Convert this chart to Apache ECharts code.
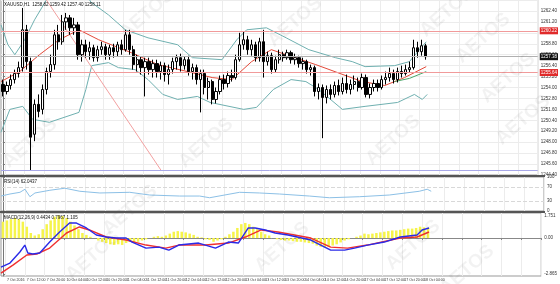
<!DOCTYPE html>
<html><head><meta charset="utf-8">
<script src="https://cdn.jsdelivr.net/npm/echarts@6/dist/echarts.min.js"></script>
<style>html,body{margin:0;padding:0;background:#fff}#c{width:560px;height:284px}</style>
</head><body><div id="c"></div>
<script>
// ---- data ----
const slotCount = 136;
const tickLabels = ["7 Oct 2016","7 Oct 12:00","7 Oct 20:00","10 Oct 04:00","10 Oct 12:00","10 Oct 20:00","11 Oct 04:00","11 Oct 12:00","11 Oct 20:00","12 Oct 04:00","12 Oct 12:00","12 Oct 20:00","13 Oct 04:00","13 Oct 12:00","13 Oct 20:00","14 Oct 04:00","14 Oct 12:00","14 Oct 20:00","17 Oct 04:00","17 Oct 12:00","17 Oct 20:00","18 Oct 04:00"];
const opens = [1254.33,1253.56,1254.22,1254.87,1255.53,1256.18,1260.33,1256.84,1248.87,1252.15,1251.60,1253.78,1255.75,1256.51,1259.78,1259.02,1261.20,1261.64,1260.55,1260.87,1257.60,1258.69,1257.93,1258.36,1257.27,1258.15,1258.47,1257.60,1258.36,1257.93,1258.69,1258.15,1259.78,1258.15,1256.51,1257.05,1256.18,1256.84,1255.96,1256.62,1255.75,1256.40,1255.42,1255.96,1256.84,1257.27,1256.40,1257.05,1255.75,1256.18,1254.87,1255.53,1254.00,1254.65,1252.69,1253.56,1254.87,1254.44,1255.31,1255.09,1257.05,1258.69,1259.24,1258.15,1258.69,1257.27,1259.02,1256.84,1257.49,1255.96,1257.05,1257.60,1257.27,1257.82,1257.05,1257.27,1256.62,1256.84,1255.96,1256.18,1253.56,1254.00,1252.91,1253.78,1253.24,1254.22,1253.56,1254.44,1253.78,1254.33,1254.65,1254.00,1255.09,1253.24,1254.00,1254.44,1254.00,1254.87,1255.09,1255.53,1254.87,1255.75,1255.53,1255.96,1256.18,1258.36,1257.93,1258.58];
const closes = [1253.56,1254.22,1254.87,1255.53,1256.18,1260.33,1256.84,1248.55,1252.15,1251.38,1253.78,1255.75,1256.51,1259.78,1259.02,1261.20,1261.64,1260.55,1260.87,1257.60,1258.69,1257.93,1258.36,1257.27,1258.15,1258.47,1257.60,1258.36,1257.93,1258.69,1258.15,1259.78,1258.15,1256.51,1257.05,1256.18,1256.84,1255.96,1256.62,1255.75,1256.40,1255.42,1255.96,1256.84,1257.27,1256.40,1257.05,1255.75,1256.18,1254.87,1255.53,1254.00,1254.65,1252.69,1253.56,1254.87,1254.44,1255.31,1255.09,1257.05,1258.69,1259.24,1258.15,1258.69,1257.27,1259.02,1256.84,1257.49,1255.96,1257.05,1257.60,1257.27,1257.82,1257.05,1257.27,1256.62,1256.84,1255.96,1256.18,1253.56,1254.00,1252.91,1253.78,1253.24,1254.22,1253.56,1254.44,1253.78,1254.33,1254.65,1254.00,1255.09,1253.24,1254.00,1254.44,1254.00,1254.87,1255.09,1255.53,1254.87,1255.75,1255.53,1255.96,1256.18,1258.36,1257.93,1258.58,1257.38];
const highs = [1254.87,1254.65,1255.42,1255.96,1256.84,1262.73,1260.87,1257.27,1252.69,1253.24,1254.33,1256.18,1257.60,1260.33,1260.87,1261.96,1262.18,1261.96,1261.64,1261.20,1259.24,1259.24,1259.02,1258.69,1258.58,1259.02,1258.80,1258.69,1258.80,1259.02,1259.24,1260.33,1260.33,1258.58,1257.60,1257.38,1257.27,1257.27,1257.05,1257.05,1256.84,1256.73,1256.51,1257.27,1257.60,1257.71,1257.38,1257.49,1256.62,1256.51,1255.96,1255.96,1255.09,1254.87,1254.00,1255.31,1255.42,1255.75,1255.96,1257.60,1260.00,1260.11,1259.67,1259.24,1259.02,1259.45,1260.33,1257.93,1257.82,1257.49,1258.15,1257.93,1258.15,1258.04,1257.71,1257.49,1257.27,1257.05,1256.51,1256.40,1254.44,1254.33,1254.22,1254.33,1254.65,1254.87,1255.09,1255.42,1254.87,1255.31,1255.09,1255.53,1255.42,1254.44,1254.87,1254.87,1255.31,1255.75,1256.18,1255.96,1256.18,1256.40,1256.51,1256.84,1259.24,1259.02,1259.24,1258.80];
const lows = [1253.02,1253.24,1253.78,1254.44,1255.09,1255.75,1255.96,1244.95,1248.11,1250.73,1251.05,1253.24,1255.09,1255.96,1258.15,1258.69,1260.33,1259.78,1259.78,1257.05,1256.84,1257.27,1257.05,1256.84,1256.84,1257.60,1257.05,1257.05,1257.27,1257.38,1257.60,1257.93,1257.60,1255.96,1255.75,1255.42,1253.02,1255.42,1255.09,1255.09,1254.87,1254.65,1254.33,1255.53,1255.96,1255.75,1255.96,1255.31,1254.87,1254.33,1251.27,1253.24,1252.69,1252.15,1252.25,1253.24,1253.78,1254.00,1254.65,1254.87,1256.84,1258.15,1257.60,1257.49,1256.84,1256.84,1255.09,1256.40,1255.53,1255.64,1256.62,1256.84,1257.05,1256.62,1256.51,1256.18,1255.96,1255.53,1255.31,1253.02,1252.69,1248.44,1252.25,1252.69,1252.91,1253.13,1253.24,1253.35,1253.24,1253.78,1253.56,1253.78,1252.91,1252.80,1253.56,1253.56,1253.78,1254.33,1254.65,1254.44,1254.55,1255.09,1255.31,1255.64,1255.96,1257.27,1257.49,1257.05];
const upperBand = [[-0.5,1260.87],[1.25,1258.69],[3,1257.6],[5.5,1259.24],[8,1261.42],[11.75,1264.15],[15.5,1266.3],[19.25,1265.8],[22.25,1263.38],[26.75,1261.96],[31,1260.33],[36.75,1259.45],[44.25,1258.69],[48,1257.27],[55.5,1257.05],[59.25,1259.24],[61.75,1260.33],[66.75,1260.55],[71.75,1259.45],[77.5,1258.15],[84.25,1257.27],[88.5,1256.84],[91.75,1256.29],[99.25,1256.4],[103,1256.84],[105.5,1258.15],[107.25,1259.02]];
const lowerBand = [[-0.5,1249.09],[1.75,1251.6],[5,1251.93],[7.5,1250.51],[11.75,1250.18],[19.25,1251.27],[21,1253.78],[22.5,1256.4],[26.75,1256.73],[29.25,1256.18],[33.5,1255.96],[36.75,1254.87],[40.5,1253.24],[44.25,1252.69],[49.25,1253.02],[52.5,1252.36],[61,1251.6],[64.25,1251.82],[68.5,1253.78],[73,1254.87],[76.75,1254.65],[80,1253.78],[86,1251.6],[91.75,1251.93],[100,1252.36],[104.25,1253.24],[106.25,1252.69],[107.5,1253.24]];
const maRed = [[-0.5,1254.65],[4.25,1255.75],[9.25,1257.6],[14.25,1259.24],[19.25,1260.33],[24.25,1259.24],[32.5,1257.82],[39.25,1256.51],[46.75,1255.75],[53,1255.09],[58,1254.87],[63,1256.84],[68,1258.15],[79.25,1256.51],[91,1254.65],[96.75,1254.22],[101.75,1255.09],[107.25,1256.29]];
const maGreen = [[99.25,1254.65],[103,1255.0],[107.25,1255.75]];
const trendLine = [[11,1263.6],[40,1244.95]];
const levelRedHigh = 1260.22, levelRedLow = 1255.64, bidPrice = 1257.38, purpleLevel = 1244.95;
const rsi = [[-0.5,44],[1.75,50],[4.25,55],[5.5,64],[6.75,42],[8,53],[11.75,61],[15.5,67],[19.25,58],[24.25,53],[31.75,55],[36.75,47],[44.25,44],[49.25,44],[51.75,39],[59.25,55],[64.25,53],[69.25,50],[76.75,44],[81.75,39],[89.25,42],[96.75,47],[104.25,58],[106.25,64],[107.25,58]];
const macdHist = [1.3,1.4,1.5,1.6,1.5,1.3,0.9,0.4,0.2,0.3,0.7,1.1,1.4,1.7,1.8,1.75,1.6,1.3,1.0,0.7,0.4,0.25,0.1,0.0,-0.2,-0.3,-0.4,-0.5,-0.55,-0.5,-0.55,-0.4,-0.3,-0.4,-0.3,-0.2,-0.1,0.0,0.1,0.15,0.1,0.2,0.35,0.5,0.55,0.5,0.45,0.35,0.25,0.1,0.05,-0.1,-0.15,-0.3,-0.2,-0.1,0.1,0.3,0.5,0.8,1.1,1.2,1.1,0.9,0.7,0.5,0.3,0.2,0.0,-0.1,-0.15,-0.2,-0.2,-0.25,-0.3,-0.3,-0.35,-0.4,-0.45,-0.6,-0.7,-0.75,-0.7,-0.6,-0.5,-0.35,-0.2,-0.1,0.0,0.1,0.2,0.35,0.3,0.35,0.4,0.45,0.5,0.55,0.6,0.6,0.65,0.7,0.75,0.75,0.8,0.9,0.85,0.8];
const macdBlue = [[-0.5,-2.31],[1.75,-1.99],[4.25,-1.11],[5.5,-0.56],[6.25,-1.19],[7.5,-1.27],[9.25,-1.19],[11.75,-0.32],[14.25,0.48],[16.75,1.19],[18.5,1.19],[21,0.8],[23.5,0.24],[26,0.08],[28.5,0],[31,0],[32.5,-0.32],[36,-0.8],[39.25,-0.72],[41.75,-0.96],[44.25,-0.56],[49.25,-0.4],[53.5,-0.8],[56.75,-0.32],[59.25,-0.4],[61.75,0.8],[63.5,0.8],[66,0.64],[68.5,0.4],[71.75,0.24],[77.5,-0.16],[80,-0.56],[82.5,-0.96],[86,-0.96],[88.5,-0.8],[91.75,-0.56],[96,-0.32],[100,0.08],[104.25,0.24],[105.5,0.64],[107.25,0.8]];
const macdRed = [[-0.5,-2.79],[2.5,-2.15],[6,-1.35],[8.5,-1.27],[11.75,-0.8],[16,0.4],[19.25,0.88],[21.75,0.64],[26,0.08],[31,-0.16],[36,-0.56],[41,-0.8],[44.25,-0.56],[51,-0.56],[56.75,-0.4],[61,0.08],[65,0.64],[69.25,0.48],[77.5,0],[82.5,-0.72],[86.75,-0.8],[91.75,-0.56],[100,0],[104.25,0.08],[107.25,0.48]];
const mainTitle = "XAUUSD,H1  1258.82 1259.42 1257.40 1258.11";
const rsiTitle = "RSI(14) 62.0437";
const macdTitle = "MACD(12,26,9) 0.4434 0.7967 1.105";
const rsiLabels = [100, 70, 30, 0];
const macdLabels = [1.751, 0, -2.865];

// ---- build ----
const categories = [];
for (let i = 0; i < slotCount; i++) {
  const k = (i - 1) / 5;
  categories.push((i % 5 === 1 && k < tickLabels.length) ? tickLabels[k] : '');
}
const candles = opens.map((o, i) => [o, closes[i], lows[i], highs[i]]);
const FONT = 'Liberation Sans';
const GRID_C = '#ececec';
const splitInt = (idx) => idx % 5 === 1;

function catAxis(gi, showLabel) {
  return {type: 'category', gridIndex: gi, data: categories, boundaryGap: true,
    axisLine: {show: showLabel, lineStyle: {color: '#888'}},
    axisTick: {show: showLabel, interval: splitInt, length: 2, lineStyle: {color: '#888'}},
    axisLabel: {show: showLabel, interval: splitInt, fontSize: 3.6, color: '#333', fontFamily: FONT, margin: 2, align: 'left'},
    splitLine: {show: true, interval: splitInt, lineStyle: {color: GRID_C, width: 1}}};
}
function valAxis(gi) {
  return {type: 'value', gridIndex: gi, min: -0.5, max: slotCount - 0.5, show: false};
}
const lineS = (xi, yi, data, color, w) => ({type: 'line', xAxisIndex: xi, yAxisIndex: yi, data, showSymbol: false,
  symbol: 'none', lineStyle: {color, width: w || 1}, silent: true, animation: false, z: 3});

const wm = [[147,14],[295,22],[447,12],[483,38],[508,78],[30,143],[206,143],[393,140],[523,120],[93,256],[282,247],[413,245],[467,270],[130,210]];

const option = {
  backgroundColor: '#ffffff',
  animation: false,
  grid: [
    {left: 1, right: 16, top: 0, height: 175, show: true, borderColor: '#999', borderWidth: 1},
    {left: 1, right: 16, top: 177, height: 34, show: true, borderColor: '#999', borderWidth: 1},
    {left: 1, right: 16, top: 213, height: 63, show: true, borderColor: '#999', borderWidth: 1}
  ],
  xAxis: [catAxis(0, false), valAxis(0), catAxis(1, false), valAxis(1), catAxis(2, true), valAxis(2)],
  yAxis: [
    {type: 'value', gridIndex: 0, position: 'right', min: 1244.4, max: 1263.6, interval: 1.2,
      axisLine: {show: true, lineStyle: {color: '#777'}}, axisTick: {show: true, length: 2},
      axisLabel: {fontSize: 4.5, color: '#333', fontFamily: FONT, margin: 3, showMaxLabel: false, formatter: v => v.toFixed(2)},
      splitLine: {show: true, lineStyle: {color: GRID_C}}},
    {type: 'value', gridIndex: 1, position: 'right', min: 0, max: 100,
      axisLine: {show: true, lineStyle: {color: '#777'}},
      axisTick: {show: true, length: 2, customValues: rsiLabels},
      axisLabel: {fontSize: 4.5, color: '#333', fontFamily: FONT, margin: 3, customValues: rsiLabels},
      splitLine: {show: false}},
    {type: 'value', gridIndex: 2, position: 'right', min: -3.02, max: 1.99,
      axisLine: {show: true, lineStyle: {color: '#777'}},
      axisTick: {show: true, length: 2, customValues: macdLabels},
      axisLabel: {fontSize: 4.5, color: '#333', fontFamily: FONT, margin: 3, customValues: macdLabels,
        formatter: v => v === 0 ? '0.00' : String(v)},
      splitLine: {show: false}}
  ],
  series: [
    {type: 'candlestick', xAxisIndex: 0, yAxisIndex: 0, data: candles, barWidth: '70%', z: 4,
      itemStyle: {color: '#ffffff', color0: '#000000', borderColor: '#000000', borderColor0: '#000000', borderWidth: 1},
      markLine: {symbol: 'none', silent: true, animation: false,
        data: [
          {yAxis: levelRedHigh, lineStyle: {color: '#f19a9a', width: 1, type: 'solid'},
            label: {show: true, position: 'end', formatter: levelRedHigh.toFixed(2), color: '#fff', backgroundColor: '#e02a2a', fontSize: 4.5, padding: [1, 1], distance: 2}},
          {yAxis: levelRedLow, lineStyle: {color: '#f19a9a', width: 1, type: 'solid'},
            label: {show: true, position: 'end', formatter: levelRedLow.toFixed(2), color: '#fff', backgroundColor: '#e02a2a', fontSize: 4.5, padding: [1, 1], distance: 2}},
          {yAxis: bidPrice, lineStyle: {color: '#b0b0b0', width: 1, type: 'solid'},
            label: {show: true, position: 'end', formatter: bidPrice.toFixed(2), color: '#fff', backgroundColor: '#111', fontSize: 4.5, padding: [1, 1], distance: 2}},
          {yAxis: purpleLevel, lineStyle: {color: '#a8a8e8', width: 1, type: 'solid'}, label: {show: false}}
        ]}},
    lineS(1, 0, upperBand, '#6fb0b0'),
    lineS(1, 0, lowerBand, '#6fb0b0'),
    lineS(1, 0, maRed, '#e34a3a'),
    lineS(1, 0, maGreen, '#4aa86a'),
    lineS(1, 0, trendLine, '#f2a0a0'),
    Object.assign(lineS(3, 1, rsi, '#8cc0e6'), {markLine: {symbol: 'none', silent: true, label: {show: false},
      lineStyle: {color: '#d8d8d8', type: 'dashed', width: 1}, data: [{yAxis: 70}, {yAxis: 30}]}}),
    {type: 'bar', xAxisIndex: 4, yAxisIndex: 2, data: macdHist, barWidth: 2.5, itemStyle: {color: '#f6f44a'}, silent: true, z: 2},
    lineS(5, 2, macdRed, '#f03030', 1.4),
    lineS(5, 2, macdBlue, '#2a2ae8', 1.4)
  ],
  graphic: [
    {type: 'rect', left: 0, top: 175, shape: {width: 545, height: 2}, style: {fill: '#555'}, z: 50},
    {type: 'rect', left: 0, top: 211, shape: {width: 545, height: 2}, style: {fill: '#555'}, z: 50},
    {type: 'text', left: 4, top: 2, style: {text: mainTitle, fontSize: 4.5, fill: '#111', fontFamily: FONT}, z: 60},
    {type: 'text', left: 4, top: 179, style: {text: rsiTitle, fontSize: 4.5, fill: '#111', fontFamily: FONT}, z: 60},
    {type: 'text', left: 4, top: 215, style: {text: macdTitle, fontSize: 4.5, fill: '#111', fontFamily: FONT}, z: 60}
  ].concat(wm.map(p => ({type: 'text', x: p[0], y: p[1], rotation: 0.72, z: 40, silent: true,
    style: {text: 'AETOS', fontSize: 19, fontWeight: 'bold', fontFamily: FONT, fill: 'rgba(0,0,0,0.05)', align: 'center', verticalAlign: 'middle'}})))
};
echarts.init(document.getElementById('c'), null, {renderer: 'canvas'}).setOption(option);
</script>
</body></html>
